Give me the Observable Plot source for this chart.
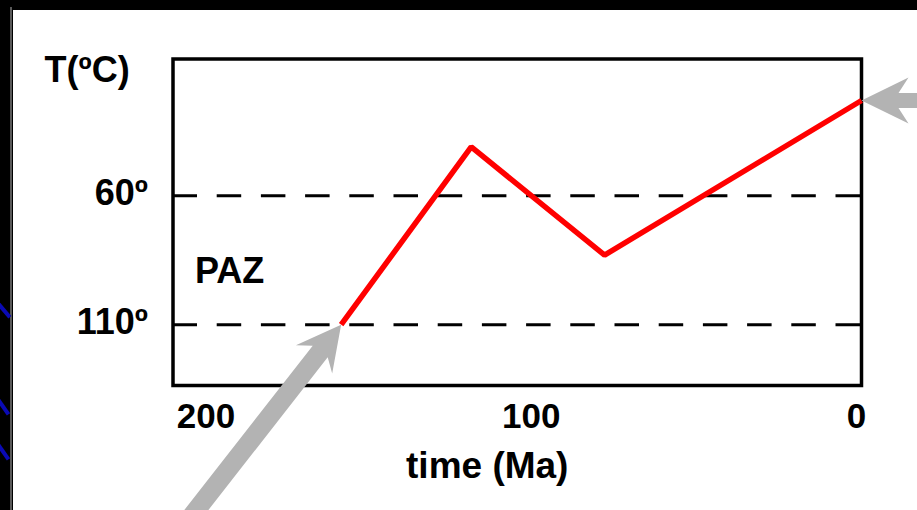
<!DOCTYPE html>
<html>
<head>
<meta charset="utf-8">
<script src="https://cdn.jsdelivr.net/npm/d3@7"></script>
<script src="https://cdn.jsdelivr.net/npm/@observablehq/plot@0.6"></script>
<style>
html, body { margin: 0; padding: 0; background: #000; width: 917px; height: 510px; overflow: hidden; }
#edge { position: absolute; left: 10px; top: 7px; width: 2px; bottom: 0; background: #5a5a5a; }
#panel { position: absolute; left: 13px; top: 10px; right: 0; bottom: 0; background: #fff; }
.blue { position: absolute; left: -3px; width: 20px; height: 4px; background: #0a0ab4; transform-origin: 0 50%; }
#chart { position: absolute; left: 0; top: 0; }
</style>
</head>
<body>
<div id="edge"></div>
<div id="panel"></div>
<div class="blue" style="top:300px; transform: rotate(50deg);"></div>
<div class="blue" style="top:396px; transform: rotate(55deg);"></div>
<div class="blue" style="top:441px; transform: rotate(55deg);"></div>
<div id="chart"></div>
<script>
// Thermal history path (time in Ma, temperature in ºC)
const timeMa = [160, 120, 79, 0];
const tempC = [110, 41, 83, 23];
// Partial annealing zone limits
const zoneTemps = [60, 110];
const zoneLabel = "PAZ";
// Axis ticks and labels
const xTicks = [200, 100, 0];
const yTicks = [60, 110];
const yTickLabels = ["60º", "110º"];
const yTitle = "T(ºC)";
const xTitle = "time (Ma)";

const fontFamily = "'Liberation Sans', Arial, Helvetica, sans-serif";
const path = timeMa.map((t, i) => ({t, T: tempC[i]}));

// Filled swept-back arrow (shaft + head), drawn pointing up, tip at (0,-l)
function arrowShape(w, headLen, headHalf, notch) {
  return {
    draw(ctx, l) {
      const h = w / 2;
      ctx.moveTo(0, -l);
      ctx.lineTo(headHalf, -l + headLen);
      ctx.lineTo(h, -l + notch);
      ctx.lineTo(h, 0);
      ctx.lineTo(-h, 0);
      ctx.lineTo(-h, -l + notch);
      ctx.lineTo(-headHalf, -l + headLen);
      ctx.closePath();
    }
  };
}

const chart = Plot.plot({
  width: 917,
  height: 510,
  marginLeft: 172.5,
  marginRight: 56,
  marginTop: 58.5,
  marginBottom: 125,
  style: {background: "transparent", fontFamily, fontWeight: "bold", color: "#000"},
  x: {domain: [211.7, 0]},
  y: {domain: [133.6, 6.9]},
  marks: [
    Plot.ruleY(zoneTemps, {stroke: "#000", strokeWidth: 3, strokeDasharray: "24.5,19.7"}),
    Plot.frame({stroke: "#000", strokeWidth: 3.5}),
    Plot.line(path, {x: "t", y: "T", stroke: "#ff0000", strokeWidth: 5.5, strokeLinejoin: "miter", strokeLinecap: "butt"}),
    Plot.vector([path[0]], {
      x: "t", y: "T", anchor: "end", length: 300, rotate: 38,
      shape: arrowShape(19, 44, 23, 34), fill: "#b3b3b3", stroke: "none"
    }),
    Plot.vector([path[path.length - 1]], {
      x: "t", y: "T", anchor: "end", length: 80, rotate: -90,
      shape: arrowShape(15, 47, 23, 37), fill: "#b3b3b3", stroke: "none"
    }),
    Plot.axisX(xTicks, {tickSize: 0, tickPadding: 18, fontSize: 35, dx: -5, label: null}),
    Plot.axisY(yTicks, {
      tickSize: 0, tickPadding: 25, fontSize: 36, dy: -2, label: null,
      tickFormat: (d) => yTickLabels[yTicks.indexOf(d)]
    }),
    Plot.text([yTitle], {frameAnchor: "top-left", textAnchor: "start", dx: -128.5, dy: -2.5, fontSize: 36}),
    Plot.text([zoneLabel], {
      y: () => (zoneTemps[0] + zoneTemps[1]) / 2, frameAnchor: "left",
      textAnchor: "start", dx: 22, dy: 11, fontSize: 36
    }),
    Plot.text([xTitle], {frameAnchor: "bottom", dx: -30, dy: 92, fontSize: 37})
  ]
});
document.getElementById("chart").appendChild(chart);
</script>
</body>
</html>
